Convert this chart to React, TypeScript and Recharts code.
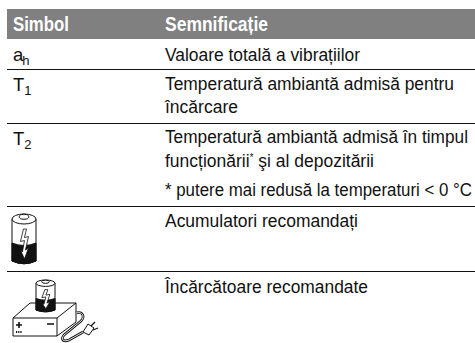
import React from 'react';
import { ScatterChart, Scatter, XAxis, YAxis, ReferenceArea, ReferenceLine } from 'recharts';

// table content
const headers = ['Simbol', 'Semnificație'];
const symbols = [['a', 'h'], ['T', '1'], ['T', '2']];
const meaningLines = [
  'Valoare totală a vibrațiilor',
  'Temperatură ambiantă admisă pentru',
  'încărcare',
  'Temperatură ambiantă admisă în timpul',
  'funcționării|*| şi al depozitării',
  '* putere mai redusă la temperaturi < 0 °C',
  'Acumulatori recomandați',
  'Încărcătoare recomandate',
];
const iconNames = ['battery', 'charger'];

// page layout, kept apart from the content
const WIDTH = 475;
const HEIGHT = 343;
const FONT = '"Liberation Sans", sans-serif';
const COL_1 = 13;
const COL_2 = 165;
const SQUEEZE = 0.82;
const ruleRows = [69.5, 123.5, 206.5, 271.5];
const headerWidths = [56, 103];
const symbolRows = [61, 91, 145];
const meaningRows = [61, 90, 113, 143, 167, 196, 227, 293];
const meaningWidths = [195, 289, 73, 303, 209, 307, 193, 203];
const iconAnchors = [{ x: 12, y: 214 }, { x: 13, y: 280 }];

const headerData = headers.map((label, i) => ({
  label,
  x: i === 0 ? COL_1 : COL_2,
  y: 31,
  fitWidth: headerWidths[i],
}));
const symbolData = symbols.map(([main, sub], i) => ({ main, sub, x: COL_1, y: symbolRows[i] }));
const meaningData = meaningLines.map((label, i) => ({
  label,
  x: COL_2,
  y: meaningRows[i],
  fitWidth: meaningWidths[i],
}));
const iconData = iconNames.map((name, i) => ({ name, ...iconAnchors[i] }));

const HeaderCell = (props: any) => (
  <text
    transform={`translate(${props.cx} ${props.cy}) scale(${SQUEEZE} 1)`}
    fill="#fff"
    fontFamily={FONT}
    fontWeight={700}
    fontSize={20}
    textLength={props.payload.fitWidth / SQUEEZE}
    lengthAdjust="spacingAndGlyphs"
  >
    {props.payload.label}
  </text>
);

const SymbolCell = (props: any) => (
  <text x={props.cx} y={props.cy} fill="#111" fontFamily={FONT} fontSize={18.5}>
    {props.payload.main}
    <tspan dx={props.payload.main === 'T' ? 0 : -1} dy={4} fontSize={13}>
      {props.payload.sub}
    </tspan>
  </text>
);

const MeaningCell = (props: any) => {
  const parts = props.payload.label.split('|');
  return (
    <text
      transform={`translate(${props.cx} ${props.cy}) scale(${SQUEEZE} 1)`}
      fill="#111"
      fontFamily={FONT}
      fontSize={18.5}
      textLength={props.payload.fitWidth / SQUEEZE}
      lengthAdjust="spacingAndGlyphs"
    >
      {parts[0]}
      {parts.length > 1 && (
        <tspan dy={-6} fontSize={10}>
          {parts[1]}
        </tspan>
      )}
      {parts.length > 1 && <tspan dy={6}>{parts[2]}</tspan>}
    </text>
  );
};

// small battery drawing, w is the body width and h the full height
const BatteryGlyph = ({ x, y, w, h }: { x: number; y: number; w: number; h: number }) => {
  const top = h * 0.1;
  const ry = h * 0.1;
  const levelY = h * 0.58;
  const boltX = x + w * 0.52;
  return (
    <g stroke="#111" strokeWidth={1} fill="#fff">
      <path
        d={`M${x} ${y + top} V${y + h - ry * 0.6} Q${x + w / 2} ${y + h + ry * 0.5} ${x + w} ${y + h - ry * 0.6} V${y + top} Z`}
      />
      <path
        d={`M${x} ${y + levelY} Q${x + w / 2} ${y + levelY + ry} ${x + w} ${y + levelY} V${y + h - ry * 0.6} Q${x + w / 2} ${y + h + ry * 0.5} ${x} ${y + h - ry * 0.6} Z`}
        fill="#111"
      />
      <ellipse cx={x + w / 2} cy={y + top} rx={w / 2} ry={ry} />
      <ellipse cx={x + w / 2} cy={y + top * 0.55} rx={w * 0.2} ry={ry * 0.5} />
      <path
        d={`M${boltX - 1} ${y + h * 0.3} L${boltX - 4} ${y + h * 0.55} L${boltX} ${y + h * 0.53} L${boltX - 2} ${y + h * 0.76} L${boltX - 4} ${y + h * 0.72} L${boltX} ${y + h * 0.9} L${boltX + 4} ${y + h * 0.68} L${boltX + 1} ${y + h * 0.72} L${boltX + 4} ${y + h * 0.45} L${boltX} ${y + h * 0.47} L${boltX + 2} ${y + h * 0.3} Z`}
        strokeWidth={0.8}
      />
    </g>
  );
};

const ChargerGlyph = ({ x, y }: { x: number; y: number }) => (
  <g fill="#fff" stroke="#111" strokeWidth={1}>
    <path d={`M${x} ${y + 38} L${x + 17} ${y + 23} H${x + 63} V${y + 42} L${x + 44} ${y + 56} H${x} Z`} />
    <path d={`M${x} ${y + 38} H${x + 44} L${x + 63} ${y + 23} M${x + 44} ${y + 38} V${y + 56}`} fill="none" />
    <BatteryGlyph x={x + 23} y={y} w={19} h={32} />
    <path d={`M${x + 3} ${y + 45} h6 M${x + 6} ${y + 42} v6 M${x + 34} ${y + 44} h7`} strokeWidth={1.6} />
    <path d={`M${x + 3} ${y + 52} h6`} strokeWidth={2} strokeDasharray="1.2 1" />
    <path
      d={`M${x + 63} ${y + 33} C${x + 70} ${y + 31} ${x + 72} ${y + 37} ${x + 68} ${y + 41} L${x + 51} ${y + 55} C${x + 47} ${y + 60} ${x + 51} ${y + 62} ${x + 56} ${y + 60} L${x + 70} ${y + 52}`}
      fill="none"
      strokeWidth={2.6}
    />
    <path
      d={`M${x + 63} ${y + 33} C${x + 70} ${y + 31} ${x + 72} ${y + 37} ${x + 68} ${y + 41} L${x + 51} ${y + 55} C${x + 47} ${y + 60} ${x + 51} ${y + 62} ${x + 56} ${y + 60} L${x + 70} ${y + 52}`}
      fill="none"
      stroke="#fff"
      strokeWidth={0.9}
    />
    <path d={`M${x + 70} ${y + 52} L${x + 75} ${y + 44} L${x + 81} ${y + 48} L${x + 76} ${y + 55} Z`} />
    <path d={`M${x + 78} ${y + 46} l4 -4 M${x + 80} ${y + 50} l5 -2`} strokeWidth={1.3} />
  </g>
);

const IconCell = (props: any) =>
  props.payload.name === 'battery' ? (
    <BatteryGlyph x={props.cx} y={props.cy} w={24} h={50} />
  ) : (
    <ChargerGlyph x={props.cx} y={props.cy} />
  );

export default function App() {
  return (
    <div style={{ position: 'absolute', left: 0, top: 0 }}>
      <ScatterChart width={WIDTH} height={HEIGHT} margin={{ top: 0, right: 0, bottom: 0, left: 7 }}>
        <XAxis type="number" dataKey="x" domain={[7, WIDTH]} hide />
        <YAxis type="number" dataKey="y" domain={[0, HEIGHT]} reversed hide />
        <ReferenceArea x1={7} x2={WIDTH} y1={9} y2={39} fill="#808080" fillOpacity={1} stroke="none" />
        {ruleRows.map((y) => (
          <ReferenceLine key={y} y={y} stroke="#111" strokeWidth={1.2} />
        ))}
        <Scatter data={headerData} shape={HeaderCell} isAnimationActive={false} />
        <Scatter data={symbolData} shape={SymbolCell} isAnimationActive={false} />
        <Scatter data={meaningData} shape={MeaningCell} isAnimationActive={false} />
        <Scatter data={iconData} shape={IconCell} isAnimationActive={false} />
      </ScatterChart>
    </div>
  );
}
